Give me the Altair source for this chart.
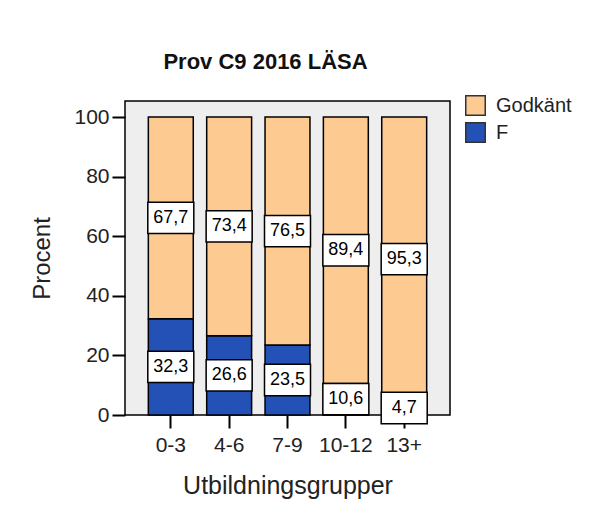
import altair as alt
import pandas as pd

groups = ["0-3", "4-6", "7-9", "10-12", "13+"]
godkant = [67.7, 73.4, 76.5, 89.4, 95.3]
f_vals = [32.3, 26.6, 23.5, 10.6, 4.7]
categories = ["Godkänt", "F"]
colors = ["#FDCA92", "#2351B5"]
y_ticks = [0, 20, 40, 60, 80, 100]

rows = []
for g, gv, fv in zip(groups, godkant, f_vals):
    rows.append(dict(group=g, cat="F", start=0.0, end=fv, value=fv))
    rows.append(dict(group=g, cat="Godkänt", start=fv, end=fv + gv, value=gv))
df = pd.DataFrame(rows)
df["mid"] = (df["start"] + df["end"]) / 2
df["label"] = df["value"].map(lambda v: f"{v:.1f}".replace(".", ","))

FONT = "Liberation Sans"
W, H = 325, 314

x_enc = alt.X(
    "group:N", sort=groups,
    scale=alt.Scale(paddingInner=0.23, paddingOuter=0.4),
    axis=alt.Axis(title="Utbildningsgrupper", labelAngle=0, tickSize=13, tickWidth=2,
                  tickColor="black", labelFontSize=21, labelPadding=6, labelColor="#222",
                  labelFont=FONT, titleFont=FONT, titleFontSize=25, titleFontWeight="normal",
                  titleColor="#222", titlePadding=18, domain=False, grid=False),
)
y_scale = alt.Scale(domain=[0, 105.4], nice=False, zero=True)
y_axis = alt.Axis(title="Procent", values=y_ticks, tickSize=13, tickWidth=2, tickColor="black",
                  labelFontSize=21, labelPadding=3, labelColor="#222", labelFont=FONT,
                  titleFont=FONT, titleFontSize=24, titleFontWeight="normal", titleColor="#222",
                  titleX=-83, titleY=H / 2, titleBaseline="middle", domain=False, grid=False)

bars = alt.Chart(df).mark_bar(stroke="black", strokeWidth=1.5).encode(
    x=x_enc,
    y=alt.Y("start:Q", scale=y_scale, axis=y_axis),
    y2="end:Q",
    color=alt.Color("cat:N", scale=alt.Scale(domain=categories, range=colors),
                    legend=alt.Legend(title=None, orient="none", legendX=340, legendY=-6,
                                      symbolType="square", symbolSize=380,
                                      symbolStrokeColor="#333", symbolStrokeWidth=1.5,
                                      labelFontSize=20, labelFont=FONT, labelColor="#222",
                                      labelOffset=10, rowPadding=0)),
)

box_shape = "M-1,-0.68L1,-0.68L1,0.68L-1,0.68Z"
boxes = alt.Chart(df).mark_point(shape=box_shape, size=2116, filled=True, fill="white",
                                 stroke="black", strokeWidth=1.5, opacity=1).encode(
    x=x_enc,
    y=alt.Y("mid:Q", scale=y_scale, axis=y_axis),
)

texts = alt.Chart(df).mark_text(fontSize=18, font=FONT, color="black",
                                baseline="middle", align="center").encode(
    x=x_enc,
    y=alt.Y("mid:Q", scale=y_scale, axis=y_axis),
    text="label:N",
)

chart = alt.layer(bars, boxes, texts).properties(
    width=W, height=H,
    title=alt.Title("Prov C9 2016 LÄSA", font=FONT,
                    fontSize=22, fontWeight="bold", color="#111", anchor="middle",
                    dx=-22, offset=21),
    padding={"left": 22, "top": 43, "right": 5, "bottom": 5},
    background="white",
).configure_view(stroke="black", strokeWidth=1.5, fill="#EEEEEE")

chart.save("out.html", embed_options={"renderer": "svg", "actions": False})
